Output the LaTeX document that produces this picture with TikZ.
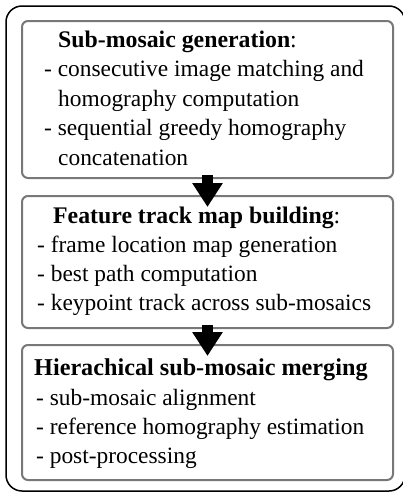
\documentclass[tikz,border=0pt]{standalone}
\usepackage{fontspec}
\setmainfont{Liberation Serif}
\usetikzlibrary{arrows.meta}
\definecolor{boxgray}{RGB}{120,120,120}
\begin{document}
\begin{tikzpicture}[x=1pt,y=-1pt,
  box/.style={draw=boxgray, line width=2pt, rounded corners=6pt, fill=white, inner sep=0pt, anchor=north west, minimum width=371pt},
  txt/.style={anchor=base west, inner sep=0pt, font=\fontsize{23.4}{29}\selectfont},
  ttl/.style={anchor=base west, inner sep=0pt, font=\fontsize{23.8}{29}\selectfont},
  flow/.style={line width=11pt, -{Triangle[width=29pt,length=24pt]}, shorten <=-4pt, shorten >=-12pt}]
\useasboundingbox (0,0) rectangle (403,493);
\fill[white] (0,0) rectangle (403,493);
\draw[line width=1.5pt, rounded corners=16pt] (6,6) rectangle (405,491);
\node[box, minimum height=157pt] (b1) at (21,20) {};
\node[box, minimum height=132pt] (b2) at (21,195) {};
\node[box, minimum height=135pt] (b3) at (21,344) {};
% box 1
\node[ttl] (t1) at (58,47) {\textbf{Sub-mosaic generation}:};
\node[txt] (l11) at (44,76.5) {- consecutive image matching and};
\node[txt] (l12) at (58,106) {homography computation};
\node[txt] (l13) at (44,135.5) {- sequential greedy homography};
\node[txt] (l14) at (58,165) {concatenation};
% box 2
\node[ttl] (t2) at (53,223) {\textbf{Feature track map building}:};
\node[txt] (l21) at (37,252) {- frame location map generation};
\node[txt] (l22) at (37,281) {- best path computation};
\node[txt] (l23) at (37,310) {- keypoint track across sub-mosaics};
% box 3
\node[ttl, font=\fontsize{24.2}{29}\selectfont] (t3) at (34,375) {\textbf{Hierachical sub-mosaic merging}};
\node[txt] (l31) at (36,405) {- sub-mosaic alignment};
\node[txt] (l32) at (36,434) {- reference homography estimation};
\node[txt] (l33) at (36,463) {- post-processing};
% arrows
\draw[flow] (b1.south) -- (b2.north);
\draw[flow] (b2.south) -- (b3.north);
\end{tikzpicture}
\end{document}
